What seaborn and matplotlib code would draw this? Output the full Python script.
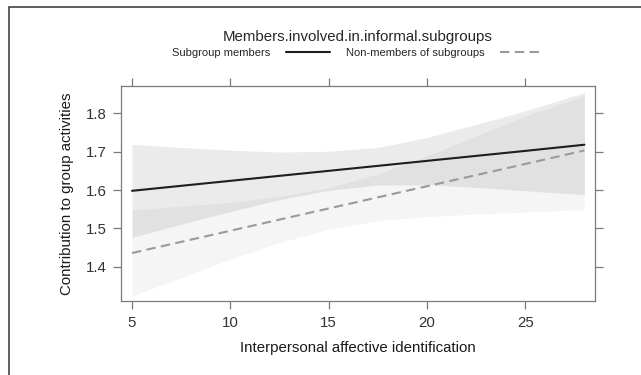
import numpy as np
import pandas as pd
import seaborn as sns
import matplotlib
matplotlib.use("Agg")
import matplotlib.pyplot as plt
from matplotlib.patches import Rectangle

# values
identification = [5, 7.5, 10, 12.5, 15, 17.5, 20, 22.5, 25, 28]
members_fit = [1.598, 1.611, 1.624, 1.637, 1.650, 1.663, 1.676, 1.689, 1.702, 1.718]
members_upper = [1.719, 1.711, 1.704, 1.699, 1.701, 1.711, 1.737, 1.771, 1.806, 1.854]
members_lower = [1.477, 1.511, 1.544, 1.575, 1.599, 1.613, 1.614, 1.607, 1.598, 1.588]
nonmembers_fit = [1.436, 1.465, 1.494, 1.523, 1.552, 1.581, 1.610, 1.639, 1.668, 1.703]
nonmembers_upper = [1.548, 1.558, 1.568, 1.583, 1.606, 1.642, 1.689, 1.741, 1.793, 1.845]
nonmembers_lower = [1.324, 1.372, 1.420, 1.463, 1.498, 1.520, 1.531, 1.537, 1.543, 1.549]
groups = ["Subgroup members", "Non-members of subgroups"]
x_ticks = [5, 10, 15, 20, 25]
y_ticks = [1.4, 1.5, 1.6, 1.7, 1.8]

df = pd.DataFrame({
    "x": identification * 2,
    "y": members_fit + nonmembers_fit,
    "group": [groups[0]] * len(identification) + [groups[1]] * len(identification),
})

sns.set_theme(style="white")
plt.rcParams["font.family"] = ["Liberation Sans", "DejaVu Sans"]

fig = plt.figure(figsize=(6.41, 3.75), dpi=100)
ax = fig.add_axes([121 / 641, 1 - 301 / 375, 474 / 641, 215 / 375])

ax.fill_between(identification, members_lower, members_upper, color="black", alpha=0.08, lw=0)
ax.fill_between(identification, nonmembers_lower, nonmembers_upper, color="black", alpha=0.04, lw=0)

sns.lineplot(data=df, x="x", y="y", hue="group", style="group", hue_order=groups,
             style_order=groups, palette=["#1e1e1e", "#9a9a9a"],
             dashes=[(None, None), (4.5, 2.6)], linewidth=1.5, ax=ax)

ax.set_xlim(4.44, 28.54)
ax.set_ylim(1.311, 1.871)
ax.set_xticks(x_ticks)
ax.set_yticks(y_ticks)
ax.set_xticklabels([str(t) for t in x_ticks])
ax.set_yticklabels([f"{t:.1f}" for t in y_ticks])
ax.tick_params(axis="both", which="both", direction="out", length=6, width=0.9,
               color="#7a7a7a", labelsize=10.8, labelcolor="#333333",
               top=True, right=True, bottom=True, left=True)
ax.tick_params(axis="x", pad=5)
ax.tick_params(axis="y", pad=4)
for sp in ax.spines.values():
    sp.set_color("#7a7a7a")
    sp.set_linewidth(0.9)

ax.set_xlabel("Interpersonal affective identification", fontsize=10.8, color="#1a1a1a", labelpad=8)
ax.set_ylabel("Contribution to group activities", fontsize=10.8, color="#1a1a1a", labelpad=9)

handles, labels = ax.get_legend_handles_labels()
leg = ax.legend(handles, labels, ncol=2, markerfirst=False, frameon=False,
                title="Members.involved.in.informal.subgroups", title_fontsize=10.8,
                fontsize=8, handlelength=4.0, handletextpad=1.4, columnspacing=1.4,
                loc="lower center", bbox_to_anchor=(0.5, 1.108), borderaxespad=0,
                labelspacing=0.2)
leg._legend_box.sep = 3

fig.add_artist(Rectangle((9 / 641, -0.1), 1.2, 1 - 7 / 375 + 0.1, transform=fig.transFigure,
                         fill=False, edgecolor="#333333", lw=1.1, clip_on=False))

fig.savefig("out.png", dpi=100)
